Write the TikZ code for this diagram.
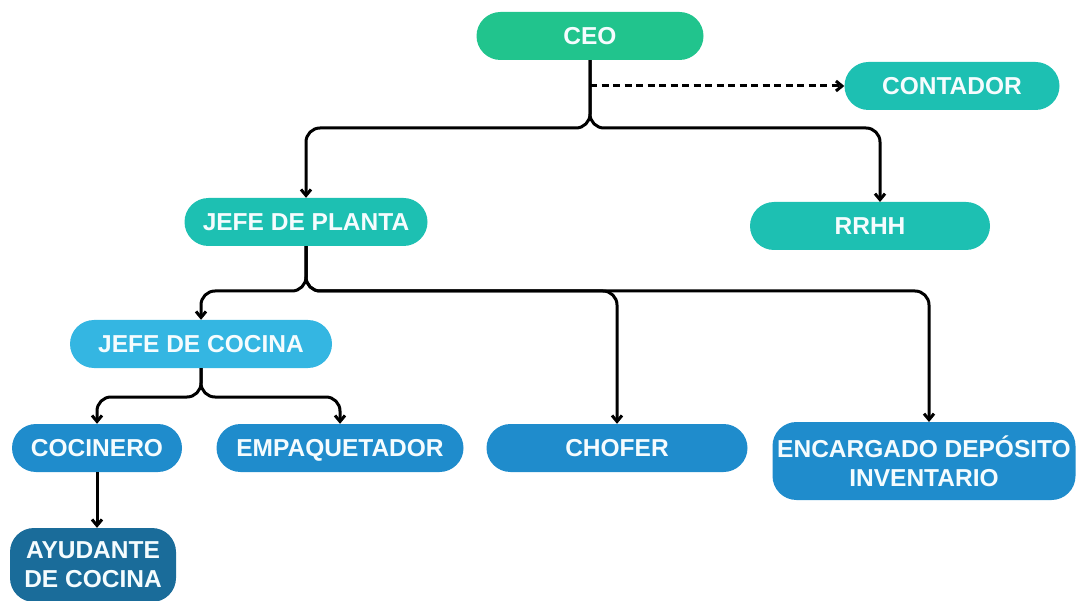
\documentclass[tikz,border=0pt]{standalone}
\usepackage{fontspec}
\setmainfont{Liberation Sans}
\usetikzlibrary{arrows.meta,positioning}
\definecolor{ceogreen}{RGB}{33,196,141}
\definecolor{tealA}{RGB}{29,192,178}
\definecolor{skyB}{RGB}{52,182,226}
\definecolor{blueC}{RGB}{31,140,204}
\definecolor{blueD}{RGB}{26,108,154}

\tikzset{
  role/.style={rounded corners=24pt, inner sep=0pt, minimum height=48pt,
    text=white!96!cyan, font=\bfseries\fontsize{24.5}{29}\selectfont, align=center},
  oneline/.style={text height=17.5pt, text depth=0pt},
  conn/.style={line width=3pt, rounded corners=14pt, -{Straight Barb[length=6pt,width=10pt]}},
}

\begin{document}
\begin{tikzpicture}[x=1pt, y=-1pt]
    \useasboundingbox (0,0) rectangle (1081,601);
    % Top level
    \node[role, oneline, fill=ceogreen, minimum width=227pt] (ceo) at (590,36) {CEO};
    \node[role, oneline, fill=tealA, minimum width=215pt] (contador) at (952,86) {CONTADOR};
    % Second level
    \node[role, oneline, fill=tealA, minimum width=243pt] (plant) at (306,222) {JEFE DE PLANTA};
    \node[role, oneline, fill=tealA, minimum width=240pt] (rrhh) at (870,226) {RRHH};
    % Third level
    \node[role, oneline, fill=skyB, minimum width=262pt] (cocina) at (201,344) {JEFE DE COCINA};
    \node[role, oneline, fill=blueC, minimum width=170pt] (cocinero) at (97,448) {COCINERO};
    \node[role, oneline, fill=blueC, minimum width=247pt] (empaq) at (340,448) {EMPAQUETADOR};
    \node[role, oneline, fill=blueC, minimum width=261pt] (chofer) at (617,448) {CHOFER};
    \node[role, fill=blueC, minimum width=303pt, minimum height=78pt] (deposito) at (924,461) {ENCARGADO DEPÓSITO\\INVENTARIO};
    \node[role, fill=blueD, minimum width=166pt, minimum height=74pt] (ayudante) at (93,565) {AYUDANTE\\DE COCINA};

    % Junctions
    \coordinate (ceoj) at (590,128);
    \coordinate (plantj) at (306,291);
    \coordinate (cocinaj) at (201,397);
    \coordinate (ceod) at (590,86);
    \coordinate (rrhhin) at (880,202);
    \coordinate (depin) at (929,422);

    % Connectors
    \draw[conn, dashed, dash pattern=on 7pt off 4.5pt, rounded corners=0pt] (ceod) -- (contador.west);
    \draw[conn] (ceo.south) -- (ceoj) -| (plant.north);
    \draw[conn] (ceo.south) -- (ceoj) -| (rrhhin);
    \draw[conn] (plant.south) -- (plantj) -| (cocina.north);
    \draw[conn] (plant.south) -- (plantj) -| (chofer.north);
    \draw[conn] (plant.south) -- (plantj) -| (depin);
    \draw[conn] (cocina.south) -- (cocinaj) -| (cocinero.north);
    \draw[conn] (cocina.south) -- (cocinaj) -| (empaq.north);
    \draw[conn] (cocinero.south) -- (cocinero.south |- ayudante.north);
\end{tikzpicture}
\end{document}
